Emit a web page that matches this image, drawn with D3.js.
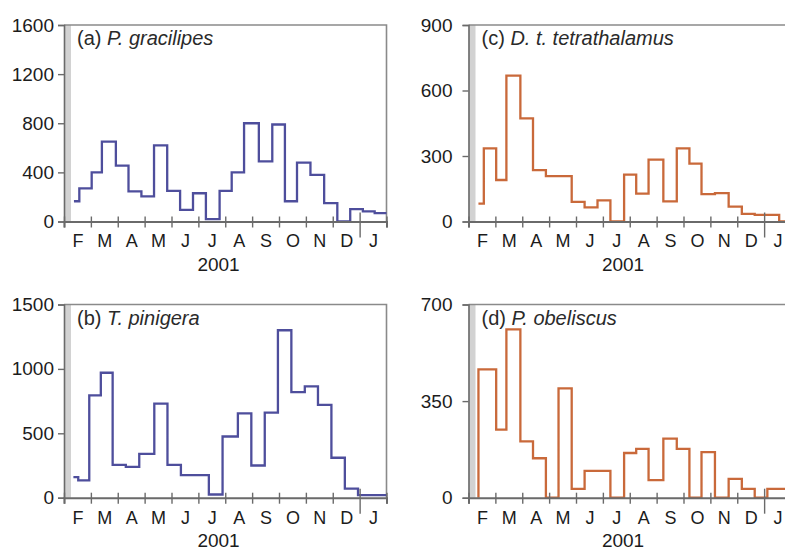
<!DOCTYPE html>
<html>
<head>
<meta charset="utf-8">
<script src="https://cdn.jsdelivr.net/npm/d3@7/dist/d3.min.js"></script>
<style>
    body { margin: 0; background: #fff; }
    svg { display: block; font-family: "Liberation Sans", Arial, sans-serif; }
</style>
</head>
<body>
<div id="chart"></div>
<script>
// month labels (Feb 2001 - Jan 2002), month boundaries are the ticks
const months = ["F", "M", "A", "M", "J", "J", "A", "S", "O", "N", "D", "J"];
const yearLabel = "2001";

// sampling period edges, in months counted from 1 Feb 2001
const edgesACD = [0.37, 0.57, 1.03, 1.41, 1.93, 2.40, 2.88, 3.35, 3.84, 4.32, 4.80, 5.28, 5.79,
    6.24, 6.70, 7.25, 7.75, 8.22, 8.67, 9.17, 9.68, 10.17, 10.65, 11.12, 11.56, 12.0];
const edgesB = [0.35, 0.53, 0.94, 1.37, 1.81, 2.30, 2.80, 3.36, 3.85, 4.35, 4.87, 5.39, 5.90,
    6.47, 6.97, 7.47, 7.96, 8.46, 8.96, 9.45, 9.95, 10.45, 10.94, 11.47, 12.0];

// flux per sampling period
const gracilipes = [165, 270, 400, 650, 455, 245, 205, 620, 250, 95, 230, 20, 250,
    400, 800, 490, 790, 165, 480, 380, 150, 0, 100, 82, 68];
const pinigera = [160, 135, 795, 970, 255, 240, 340, 730, 255, 175, 175, 25,
    475, 655, 250, 660, 1300, 820, 865, 720, 310, 70, 20, 20];
const tetrathalamus = [82, 335, 190, 668, 472, 235, 208, 208, 90, 65, 97, 0, 215,
    128, 283, 92, 335, 265, 125, 130, 68, 35, 30, 30, 0];
const obeliscus = [465, 465, 247, 610, 204, 143, 0, 396, 32, 97, 97, 0, 162,
    177, 64, 214, 177, 0, 165, 0, 68, 32, 0, 32, 32];

const ticksA = [0, 400, 800, 1200, 1600];
const ticksB = [0, 500, 1000, 1500];
const ticksC = [0, 300, 600, 900];
const ticksD = [0, 350, 700];

const blue = "#4e4e9c";
const orange = "#c9693a";

const panels = [
    { tag: "(a) ", name: "P. gracilipes", edges: edgesACD, values: gracilipes, ticks: ticksA, colour: blue,
      left: 64, top: 25, bottom: 221.5, pad: 4, monthPad: 13, yearDy: 49, fromZero: false },
    { tag: "(b) ", name: "T. pinigera", edges: edgesB, values: pinigera, ticks: ticksB, colour: blue,
      left: 64, top: 304.5, bottom: 497.7, pad: 4, monthPad: 14, yearDy: 48.8, fromZero: false },
    { tag: "(c) ", name: "D. t. tetrathalamus", edges: edgesACD, values: tetrathalamus, ticks: ticksC, colour: orange,
      left: 468.5, top: 25, bottom: 221.5, pad: 10, monthPad: 13, yearDy: 49, fromZero: false },
    { tag: "(d) ", name: "P. obeliscus", edges: edgesACD, values: obeliscus, ticks: ticksD, colour: orange,
      left: 468.5, top: 304.5, bottom: 497.7, pad: 10, monthPad: 14, yearDy: 48.8, fromZero: true }
];

const plotWidth = 322.5;
const ink = "#1c1c1c";

const svg = d3.select("#chart").append("svg")
    .attr("width", 785)
    .attr("height", 551);

panels.forEach(p => {
    const x = d3.scaleLinear().domain([0, 12]).range([p.left, p.left + plotWidth]);
    const y = d3.scaleLinear()
        .domain([0, d3.max(p.ticks)])
        .range([p.bottom, p.top]);

    const g = svg.append("g");

    // shaded strip along the left axis
    g.append("rect")
        .attr("x", x(0))
        .attr("y", y.range()[1])
        .attr("width", 7)
        .attr("height", p.bottom - p.top)
        .attr("fill", "#d2d2d2");

    // frame top and right
    g.append("path")
        .attr("d", `M${x(0)},${y.range()[1]}H${x(12)}V${y(0)}`)
        .attr("fill", "none")
        .attr("stroke", "#8a8a8a")
        .attr("stroke-width", 1.6);

    // step line
    const pts = p.values.map((v, i) => [p.edges[i], v]);
    pts.push([p.edges[p.edges.length - 1], p.values[p.values.length - 1]]);
    if (p.fromZero) pts.unshift([p.edges[0], 0]);

    const line = d3.line()
        .x(d => x(d[0]))
        .y(d => y(d[1]))
        .curve(d3.curveStepAfter);

    g.append("path")
        .datum(pts)
        .attr("fill", "none")
        .attr("stroke", p.colour)
        .attr("stroke-width", 2.3)
        .attr("d", line);

    // y axis
    const yAxis = g.append("g")
        .attr("transform", `translate(${x(0)},0)`)
        .call(d3.axisLeft(y).tickValues(p.ticks).tickSize(6).tickPadding(p.pad).tickFormat(d3.format("d")));
    yAxis.select(".domain").attr("stroke", "#6a6a6a").attr("stroke-width", 1.6);
    yAxis.selectAll(".tick line").attr("stroke", "#6a6a6a").attr("stroke-width", 1.4);
    yAxis.selectAll("text").attr("fill", ink).style("font-size", "19px");

    // x axis: month boundaries, long tick at the turn of the year
    const xAxis = g.append("g")
        .attr("transform", `translate(0,${y(0)})`)
        .call(d3.axisBottom(x).tickValues(d3.range(13)).tickSize(6).tickFormat(""));
    xAxis.select(".domain").attr("stroke", "#6a6a6a").attr("stroke-width", 2);
    xAxis.selectAll(".tick line")
        .attr("stroke", "#6a6a6a")
        .attr("stroke-width", 1.4)
        .attr("y1", d => d === 11 ? -9 : -5)
        .attr("y2", d => d === 11 ? 16 : 6);

    // month labels centred between ticks
    const mAxis = g.append("g")
        .attr("transform", `translate(0,${y(0)})`)
        .call(d3.axisBottom(x)
            .tickValues(d3.range(12).map(i => i + 0.5))
            .tickSize(0)
            .tickPadding(p.monthPad)
            .tickFormat((d, i) => months[i]));
    mAxis.select(".domain").remove();
    mAxis.selectAll("text").attr("fill", ink).style("font-size", "18px");

    g.append("text")
        .attr("x", x(5.75))
        .attr("y", y(0) + p.yearDy)
        .attr("text-anchor", "middle")
        .attr("fill", ink)
        .style("font-size", "19px")
        .text(yearLabel);

    // panel label
    const lbl = g.append("text")
        .attr("x", x(0) + 13)
        .attr("y", y.range()[1] + 20)
        .attr("fill", "#2a2a2a")
        .style("font-size", "20px");
    lbl.append("tspan").text(p.tag);
    lbl.append("tspan").style("font-style", "italic").text(p.name);
});
</script>
</body>
</html>
